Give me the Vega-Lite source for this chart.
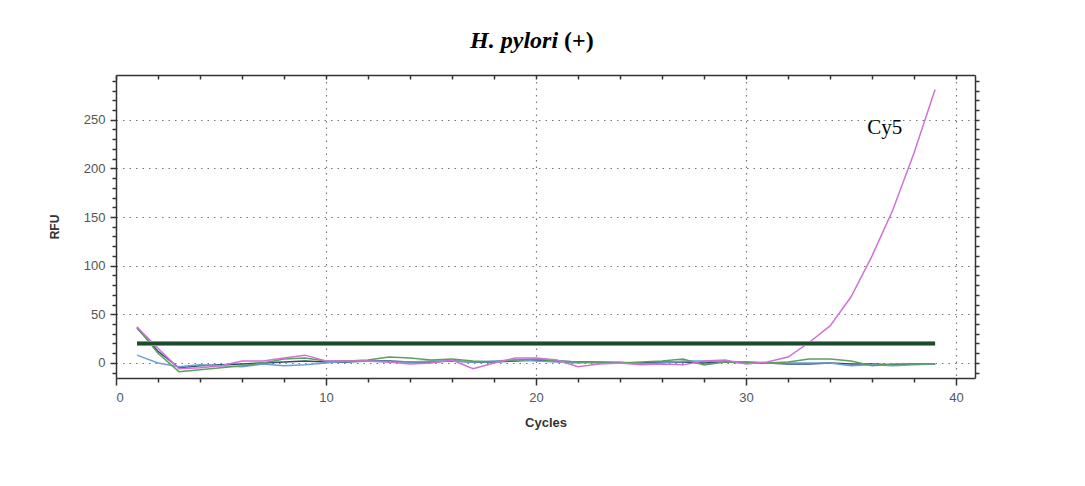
{
  "$schema": "https://vega.github.io/schema/vega-lite/v6.json",
  "width": 859,
  "height": 303,
  "autosize": {"type": "none"},
  "padding": {"left": 116, "top": 75, "right": 110, "bottom": 108},
  "background": "white",
  "config": {"view": {"stroke": null}},
  "datasets": {
    "curves": [
      {"cycle":1,"rfu":36,"series":"Dark"},{"cycle":2,"rfu":12,"series":"Dark"},{"cycle":3,"rfu":-5,"series":"Dark"},{"cycle":4,"rfu":-3,"series":"Dark"},{"cycle":5,"rfu":-2,"series":"Dark"},{"cycle":6,"rfu":-1,"series":"Dark"},{"cycle":7,"rfu":0,"series":"Dark"},{"cycle":8,"rfu":1,"series":"Dark"},{"cycle":9,"rfu":2,"series":"Dark"},{"cycle":10,"rfu":1,"series":"Dark"},{"cycle":11,"rfu":1,"series":"Dark"},{"cycle":12,"rfu":2,"series":"Dark"},{"cycle":13,"rfu":2,"series":"Dark"},{"cycle":14,"rfu":1,"series":"Dark"},{"cycle":15,"rfu":1,"series":"Dark"},{"cycle":16,"rfu":2,"series":"Dark"},{"cycle":17,"rfu":1,"series":"Dark"},{"cycle":18,"rfu":1,"series":"Dark"},{"cycle":19,"rfu":2,"series":"Dark"},{"cycle":20,"rfu":3,"series":"Dark"},{"cycle":21,"rfu":2,"series":"Dark"},{"cycle":22,"rfu":1,"series":"Dark"},{"cycle":23,"rfu":1,"series":"Dark"},{"cycle":24,"rfu":0,"series":"Dark"},{"cycle":25,"rfu":0,"series":"Dark"},{"cycle":26,"rfu":1,"series":"Dark"},{"cycle":27,"rfu":1,"series":"Dark"},{"cycle":28,"rfu":0,"series":"Dark"},{"cycle":29,"rfu":1,"series":"Dark"},{"cycle":30,"rfu":0,"series":"Dark"},{"cycle":31,"rfu":0,"series":"Dark"},{"cycle":32,"rfu":-1,"series":"Dark"},{"cycle":33,"rfu":-1,"series":"Dark"},{"cycle":34,"rfu":0,"series":"Dark"},{"cycle":35,"rfu":-1,"series":"Dark"},{"cycle":36,"rfu":-1,"series":"Dark"},{"cycle":37,"rfu":-2,"series":"Dark"},{"cycle":38,"rfu":-1,"series":"Dark"},{"cycle":39,"rfu":-1,"series":"Dark"},
      {"cycle":1,"rfu":8,"series":"Blue"},{"cycle":2,"rfu":0,"series":"Blue"},{"cycle":3,"rfu":-4,"series":"Blue"},{"cycle":4,"rfu":-2,"series":"Blue"},{"cycle":5,"rfu":-3,"series":"Blue"},{"cycle":6,"rfu":-4,"series":"Blue"},{"cycle":7,"rfu":-1,"series":"Blue"},{"cycle":8,"rfu":-3,"series":"Blue"},{"cycle":9,"rfu":-2,"series":"Blue"},{"cycle":10,"rfu":0,"series":"Blue"},{"cycle":11,"rfu":2,"series":"Blue"},{"cycle":12,"rfu":2,"series":"Blue"},{"cycle":13,"rfu":1,"series":"Blue"},{"cycle":14,"rfu":1,"series":"Blue"},{"cycle":15,"rfu":2,"series":"Blue"},{"cycle":16,"rfu":2,"series":"Blue"},{"cycle":17,"rfu":1,"series":"Blue"},{"cycle":18,"rfu":2,"series":"Blue"},{"cycle":19,"rfu":3,"series":"Blue"},{"cycle":20,"rfu":2,"series":"Blue"},{"cycle":21,"rfu":1,"series":"Blue"},{"cycle":22,"rfu":0,"series":"Blue"},{"cycle":23,"rfu":1,"series":"Blue"},{"cycle":24,"rfu":1,"series":"Blue"},{"cycle":25,"rfu":-1,"series":"Blue"},{"cycle":26,"rfu":0,"series":"Blue"},{"cycle":27,"rfu":2,"series":"Blue"},{"cycle":28,"rfu":2,"series":"Blue"},{"cycle":29,"rfu":1,"series":"Blue"},{"cycle":30,"rfu":1,"series":"Blue"},{"cycle":31,"rfu":0,"series":"Blue"},{"cycle":32,"rfu":0,"series":"Blue"},{"cycle":33,"rfu":0,"series":"Blue"},{"cycle":34,"rfu":0,"series":"Blue"},{"cycle":35,"rfu":-3,"series":"Blue"},{"cycle":36,"rfu":-2,"series":"Blue"},{"cycle":37,"rfu":-3,"series":"Blue"},{"cycle":38,"rfu":-2,"series":"Blue"},{"cycle":39,"rfu":-1,"series":"Blue"},
      {"cycle":1,"rfu":37,"series":"Green"},{"cycle":2,"rfu":10,"series":"Green"},{"cycle":3,"rfu":-9,"series":"Green"},{"cycle":4,"rfu":-7,"series":"Green"},{"cycle":5,"rfu":-5,"series":"Green"},{"cycle":6,"rfu":-3,"series":"Green"},{"cycle":7,"rfu":0,"series":"Green"},{"cycle":8,"rfu":4,"series":"Green"},{"cycle":9,"rfu":5,"series":"Green"},{"cycle":10,"rfu":2,"series":"Green"},{"cycle":11,"rfu":2,"series":"Green"},{"cycle":12,"rfu":3,"series":"Green"},{"cycle":13,"rfu":6,"series":"Green"},{"cycle":14,"rfu":5,"series":"Green"},{"cycle":15,"rfu":3,"series":"Green"},{"cycle":16,"rfu":4,"series":"Green"},{"cycle":17,"rfu":2,"series":"Green"},{"cycle":18,"rfu":1,"series":"Green"},{"cycle":19,"rfu":3,"series":"Green"},{"cycle":20,"rfu":4,"series":"Green"},{"cycle":21,"rfu":2,"series":"Green"},{"cycle":22,"rfu":1,"series":"Green"},{"cycle":23,"rfu":0,"series":"Green"},{"cycle":24,"rfu":0,"series":"Green"},{"cycle":25,"rfu":1,"series":"Green"},{"cycle":26,"rfu":2,"series":"Green"},{"cycle":27,"rfu":4,"series":"Green"},{"cycle":28,"rfu":-2,"series":"Green"},{"cycle":29,"rfu":1,"series":"Green"},{"cycle":30,"rfu":1,"series":"Green"},{"cycle":31,"rfu":0,"series":"Green"},{"cycle":32,"rfu":1,"series":"Green"},{"cycle":33,"rfu":4,"series":"Green"},{"cycle":34,"rfu":4,"series":"Green"},{"cycle":35,"rfu":2,"series":"Green"},{"cycle":36,"rfu":-3,"series":"Green"},{"cycle":37,"rfu":-1,"series":"Green"},{"cycle":38,"rfu":-1,"series":"Green"},{"cycle":39,"rfu":-1,"series":"Green"},
      {"cycle":1,"rfu":37,"series":"Cy5"},{"cycle":2,"rfu":15,"series":"Cy5"},{"cycle":3,"rfu":-6,"series":"Cy5"},{"cycle":4,"rfu":-5,"series":"Cy5"},{"cycle":5,"rfu":-3,"series":"Cy5"},{"cycle":6,"rfu":2,"series":"Cy5"},{"cycle":7,"rfu":2,"series":"Cy5"},{"cycle":8,"rfu":5,"series":"Cy5"},{"cycle":9,"rfu":8,"series":"Cy5"},{"cycle":10,"rfu":2,"series":"Cy5"},{"cycle":11,"rfu":2,"series":"Cy5"},{"cycle":12,"rfu":2,"series":"Cy5"},{"cycle":13,"rfu":1,"series":"Cy5"},{"cycle":14,"rfu":-1,"series":"Cy5"},{"cycle":15,"rfu":0,"series":"Cy5"},{"cycle":16,"rfu":3,"series":"Cy5"},{"cycle":17,"rfu":-6,"series":"Cy5"},{"cycle":18,"rfu":0,"series":"Cy5"},{"cycle":19,"rfu":5,"series":"Cy5"},{"cycle":20,"rfu":5,"series":"Cy5"},{"cycle":21,"rfu":3,"series":"Cy5"},{"cycle":22,"rfu":-4,"series":"Cy5"},{"cycle":23,"rfu":-1,"series":"Cy5"},{"cycle":24,"rfu":0,"series":"Cy5"},{"cycle":25,"rfu":-2,"series":"Cy5"},{"cycle":26,"rfu":-1,"series":"Cy5"},{"cycle":27,"rfu":-2,"series":"Cy5"},{"cycle":28,"rfu":2,"series":"Cy5"},{"cycle":29,"rfu":3,"series":"Cy5"},{"cycle":30,"rfu":-1,"series":"Cy5"},{"cycle":31,"rfu":1,"series":"Cy5"},{"cycle":32,"rfu":6,"series":"Cy5"},{"cycle":33,"rfu":21,"series":"Cy5"},{"cycle":34,"rfu":38,"series":"Cy5"},{"cycle":35,"rfu":68,"series":"Cy5"},{"cycle":36,"rfu":110,"series":"Cy5"},{"cycle":37,"rfu":158,"series":"Cy5"},{"cycle":38,"rfu":216,"series":"Cy5"},{"cycle":39,"rfu":281,"series":"Cy5"}
    ],
    "threshold": [{"start": 1, "end": 39, "rfu": 20}],
    "labels": [{"cycle": 36.6, "rfu": 242, "text": "Cy5"}],
    "titleItalic": [{"cycle": 21.05, "rfu": 324, "text": "H. pylori"}],
    "titleUpright": [{"cycle": 21.05, "rfu": 324, "text": "(+)"}]
  },
  "layer": [
    {
      "data": {"name": "curves"},
      "mark": {"type": "line", "strokeWidth": 1.5, "interpolate": "linear"},
      "encoding": {
        "x": {
          "field": "cycle", "type": "quantitative",
          "scale": {"domain": [0, 40.9], "nice": false, "zero": false},
          "axis": {
            "orient": "bottom",
            "title": "Cycles",
            "titleFont": "Liberation Sans", "titleFontSize": 13, "titleFontWeight": "bold", "titleColor": "#333",
            "titlePadding": 12,
            "values": [0,2,4,6,8,10,12,14,16,18,20,22,24,26,28,30,32,34,36,38,40],
            "labelExpr": "datum.value % 10 === 0 ? datum.label : ''",
            "labelFont": "Liberation Sans", "labelFontSize": 13, "labelColor": "#555",
            "labelOverlap": false, "labelPadding": 6,
            "domainColor": "#333", "domainWidth": 1.5,
            "tickColor": "#333", "tickWidth": 1.5,
            "tickSize": {"condition": {"test": "datum.value % 10 === 0", "value": 7}, "value": 4},
            "grid": true, "gridColor": "#777", "gridDash": [1.5, 5], "gridWidth": 1.2,
            "gridOpacity": {"condition": {"test": "datum.value % 10 === 0 && datum.value > 0", "value": 1}, "value": 0}
          }
        },
        "y": {
          "field": "rfu", "type": "quantitative",
          "scale": {"domain": [-15.5, 296], "nice": false, "zero": false},
          "axis": {
            "orient": "left",
            "title": "RFU",
            "titleFont": "Liberation Sans", "titleFontSize": 12, "titleFontWeight": "bold", "titleColor": "#333",
            "titlePadding": 22,
            "values": [-10,0,10,20,30,40,50,60,70,80,90,100,110,120,130,140,150,160,170,180,190,200,210,220,230,240,250,260,270,280,290],
            "labelExpr": "datum.value % 50 === 0 ? datum.label : ''",
            "labelFont": "Liberation Sans", "labelFontSize": 13, "labelColor": "#555",
            "labelOverlap": false, "labelPadding": 5,
            "domainColor": "#333", "domainWidth": 1.5,
            "tickColor": "#333", "tickWidth": 1.5,
            "tickSize": {"condition": {"test": "datum.value % 50 === 0", "value": 6}, "value": 4},
            "grid": true, "gridColor": "#777", "gridDash": [1.5, 5], "gridWidth": 1.2,
            "gridOpacity": {"condition": {"test": "datum.value % 50 === 0", "value": 1}, "value": 0}
          }
        },
        "color": {
          "field": "series", "type": "nominal",
          "scale": {"domain": ["Dark", "Blue", "Green", "Cy5"], "range": ["#2c4c6e", "#6b9fd6", "#5f9e5f", "#cf72d6"]},
          "legend": null
        }
      }
    },
    {
      "data": {"name": "threshold"},
      "mark": {"type": "rule", "strokeWidth": 5, "color": "#8fb6dc"},
      "encoding": {
        "x": {"field": "start", "type": "quantitative", "axis": null},
        "x2": {"field": "end"},
        "y": {"field": "rfu", "type": "quantitative", "axis": null}
      }
    },
    {
      "data": {"name": "threshold"},
      "mark": {"type": "rule", "strokeWidth": 3.4, "color": "#1b4d2c"},
      "encoding": {
        "x": {
          "field": "start", "type": "quantitative",
          "axis": {
            "orient": "top", "title": null, "labels": false, "grid": false,
            "values": [0,2,4,6,8,10,12,14,16,18,20,22,24,26,28,30,32,34,36,38,40],
            "domainColor": "#333", "domainWidth": 1.5,
            "tickColor": "#333", "tickWidth": 1.5, "tickSize": -4
          }
        },
        "x2": {"field": "end"},
        "y": {
          "field": "rfu", "type": "quantitative",
          "axis": {
            "orient": "right", "title": null, "labels": false, "grid": false,
            "values": [-10,0,10,20,30,40,50,60,70,80,90,100,110,120,130,140,150,160,170,180,190,200,210,220,230,240,250,260,270,280,290],
            "domainColor": "#333", "domainWidth": 1.5,
            "tickColor": "#333", "tickWidth": 1.5, "tickSize": 4
          }
        }
      }
    },
    {
      "data": {"name": "labels"},
      "mark": {"type": "text", "font": "Liberation Serif", "fontSize": 21, "color": "#000", "align": "center", "baseline": "middle"},
      "encoding": {
        "x": {"field": "cycle", "type": "quantitative", "axis": null},
        "y": {"field": "rfu", "type": "quantitative", "axis": null},
        "text": {"field": "text"}
      }
    },
    {
      "data": {"name": "titleItalic"},
      "mark": {"type": "text", "font": "Liberation Serif", "fontSize": 24, "fontStyle": "italic", "fontWeight": "bold", "color": "#000", "align": "right", "baseline": "alphabetic", "clip": false},
      "encoding": {
        "x": {"field": "cycle", "type": "quantitative", "axis": null},
        "y": {"field": "rfu", "type": "quantitative", "axis": null},
        "text": {"field": "text"}
      }
    },
    {
      "data": {"name": "titleUpright"},
      "mark": {"type": "text", "font": "Liberation Serif", "fontSize": 24, "fontWeight": "bold", "color": "#000", "align": "left", "baseline": "alphabetic", "dx": 6, "clip": false},
      "encoding": {
        "x": {"field": "cycle", "type": "quantitative", "axis": null},
        "y": {"field": "rfu", "type": "quantitative", "axis": null},
        "text": {"field": "text"}
      }
    }
  ],
  "resolve": {"axis": {"x": "independent", "y": "independent"}}
}
